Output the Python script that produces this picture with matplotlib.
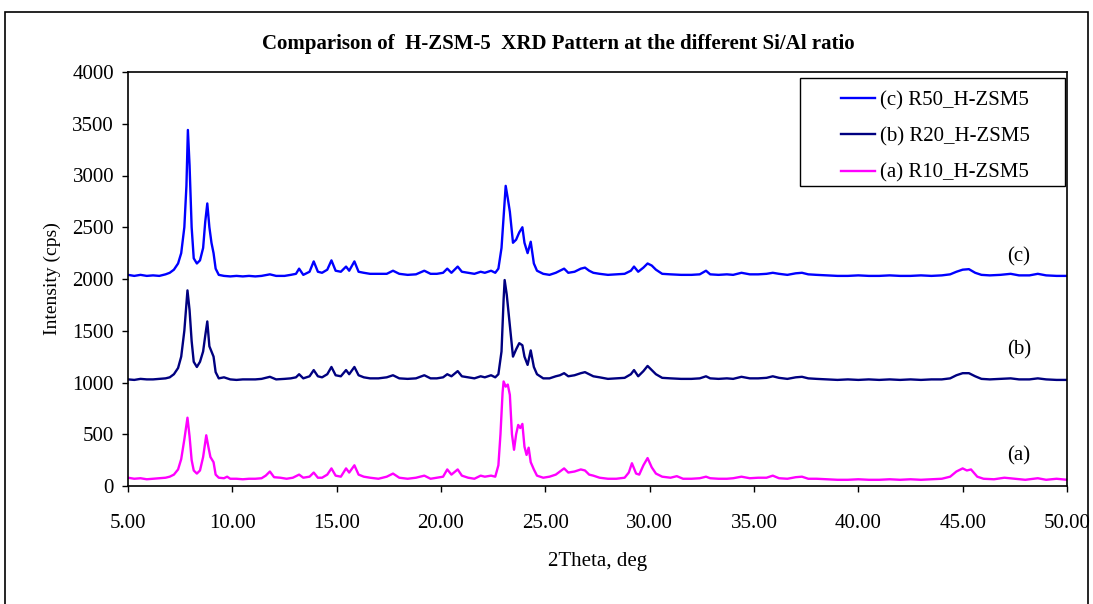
import matplotlib
matplotlib.use("Agg")
import matplotlib.pyplot as plt
from matplotlib.patches import Rectangle

# (c) R50_H-ZSM5
theta_c = [5.0, 5.3, 5.6, 5.9, 6.2, 6.5, 6.8, 7.0, 7.2, 7.4, 7.55, 7.7, 7.8, 7.87, 7.95,
           8.05, 8.15, 8.3, 8.45, 8.6, 8.7, 8.8, 8.9, 9.0, 9.1, 9.2, 9.35, 9.6, 9.9,
           10.2, 10.5, 10.8, 11.1, 11.4, 11.8, 12.1, 12.5, 12.8, 13.05, 13.2, 13.4,
           13.7, 13.9, 14.1, 14.3, 14.55, 14.75, 14.95, 15.2, 15.45, 15.6, 15.85,
           16.05, 16.3, 16.6, 17.0, 17.4, 17.7, 18.0, 18.4, 18.8, 19.2, 19.5, 19.8,
           20.1, 20.3, 20.5, 20.8, 21.0, 21.3, 21.6, 21.9, 22.1, 22.4, 22.6, 22.75,
           22.9, 23.0, 23.1, 23.2, 23.3, 23.45, 23.6, 23.75, 23.9, 24.0, 24.15, 24.3,
           24.45, 24.6, 24.9, 25.2, 25.5, 25.7, 25.9, 26.1, 26.4, 26.7, 26.9, 27.1,
           27.3, 27.6, 28.0, 28.4, 28.8, 29.1, 29.25, 29.45, 29.7, 29.9, 30.1, 30.3,
           30.6, 31.0, 31.5, 32.0, 32.4, 32.7, 32.9, 33.3, 33.7, 34.0, 34.4, 34.8,
           35.2, 35.6, 35.9, 36.2, 36.6, 37.0, 37.3, 37.6, 38.0, 38.5, 39.0, 39.5,
           40.0, 40.5, 41.0, 41.5, 42.0, 42.5, 43.0, 43.5, 44.0, 44.4, 44.7, 45.0,
           45.3, 45.6, 45.9, 46.3, 46.8, 47.3, 47.7, 48.2, 48.6, 49.0, 49.5, 50.0]
int_c = [2040, 2030, 2040, 2030, 2035, 2030, 2045, 2060, 2090, 2150, 2250, 2500, 2900, 3440, 3100,
         2500, 2200, 2150, 2180, 2300, 2550, 2730, 2500, 2350, 2250, 2100, 2040, 2030, 2025,
         2030, 2025, 2030, 2025, 2030, 2045, 2030, 2030, 2040, 2050, 2100, 2040,
         2070, 2170, 2070, 2060, 2090, 2180, 2080, 2070, 2120, 2080, 2170,
         2070, 2060, 2050, 2050, 2050, 2080, 2050, 2040, 2045, 2080, 2050, 2050,
         2060, 2100, 2060, 2120, 2070, 2060, 2050, 2070, 2060, 2080, 2060, 2100,
         2300, 2600, 2900, 2780, 2650, 2350, 2380, 2450, 2500, 2350, 2250, 2360,
         2150, 2080, 2050, 2040, 2060, 2080, 2100, 2060, 2070, 2100, 2110, 2080,
         2060, 2050, 2040, 2045, 2050, 2080, 2120, 2070, 2110, 2150, 2130, 2090,
         2050, 2045, 2040, 2040, 2045, 2080, 2045, 2040, 2045, 2040, 2060, 2045,
         2045, 2050, 2060, 2050, 2040, 2055, 2060, 2045, 2040, 2035, 2030, 2030,
         2035, 2030, 2030, 2035, 2030, 2030, 2035, 2030, 2035, 2045, 2070, 2090,
         2095, 2060, 2040, 2035, 2040, 2050, 2035, 2035, 2050, 2035, 2030, 2030]

# (b) R20_H-ZSM5
theta_b = [5.0, 5.3, 5.6, 5.9, 6.2, 6.5, 6.8, 7.0, 7.2, 7.4, 7.55, 7.7, 7.85, 7.95,
           8.05, 8.15, 8.3, 8.45, 8.6, 8.7, 8.8, 8.9, 9.0, 9.1, 9.2, 9.35, 9.6, 9.9,
           10.2, 10.5, 10.8, 11.1, 11.4, 11.8, 12.1, 12.5, 12.8, 13.05, 13.2, 13.4,
           13.7, 13.9, 14.1, 14.3, 14.55, 14.75, 14.95, 15.2, 15.45, 15.6, 15.85,
           16.05, 16.3, 16.6, 17.0, 17.4, 17.7, 18.0, 18.4, 18.8, 19.2, 19.5, 19.8,
           20.1, 20.3, 20.5, 20.8, 21.0, 21.3, 21.6, 21.9, 22.1, 22.4, 22.6, 22.75,
           22.9, 23.0, 23.05, 23.15, 23.3, 23.45, 23.6, 23.75, 23.9, 24.0, 24.15, 24.3,
           24.45, 24.6, 24.9, 25.2, 25.5, 25.7, 25.9, 26.1, 26.4, 26.7, 26.9, 27.1,
           27.3, 27.6, 28.0, 28.4, 28.8, 29.1, 29.25, 29.45, 29.7, 29.9, 30.1, 30.3,
           30.6, 31.0, 31.5, 32.0, 32.4, 32.7, 32.9, 33.3, 33.7, 34.0, 34.4, 34.8,
           35.2, 35.6, 35.9, 36.2, 36.6, 37.0, 37.3, 37.6, 38.0, 38.5, 39.0, 39.5,
           40.0, 40.5, 41.0, 41.5, 42.0, 42.5, 43.0, 43.5, 44.0, 44.4, 44.7, 45.0,
           45.3, 45.6, 45.9, 46.3, 46.8, 47.3, 47.7, 48.2, 48.6, 49.0, 49.5, 50.0]
int_b = [1030, 1025, 1035, 1030, 1030, 1035, 1040, 1050, 1080, 1140, 1250, 1500, 1890, 1700,
         1400, 1200, 1150, 1200, 1300, 1450, 1590, 1350, 1300, 1250, 1100, 1040, 1050, 1030,
         1025, 1030, 1030, 1030, 1035, 1055, 1030, 1035, 1040, 1050, 1080, 1040,
         1060, 1120, 1060, 1050, 1080, 1150, 1070, 1060, 1120, 1080, 1150,
         1070, 1050, 1040, 1040, 1050, 1070, 1040, 1035, 1040, 1070, 1040, 1040,
         1050, 1080, 1060, 1110, 1060, 1050, 1040, 1060, 1050, 1070, 1050, 1080,
         1300, 1800, 1990, 1850, 1550, 1250, 1320, 1380, 1360, 1250, 1170, 1310,
         1150, 1080, 1040, 1040, 1060, 1070, 1090, 1060, 1070, 1090, 1100, 1080,
         1060, 1050, 1035, 1040, 1045, 1080, 1120, 1060, 1110, 1160, 1120, 1080,
         1045, 1040, 1035, 1035, 1040, 1060, 1040, 1035, 1040, 1035, 1055, 1040,
         1040, 1045, 1060, 1045, 1035, 1050, 1055, 1040, 1035, 1030, 1025, 1030,
         1025, 1030, 1025, 1030, 1025, 1030, 1025, 1030, 1030, 1040, 1070, 1090,
         1090, 1060, 1035, 1030, 1035, 1040, 1030, 1030, 1040, 1030, 1025, 1025]

# (a) R10_H-ZSM5
theta_a = [5.0, 5.3, 5.6, 5.9, 6.2, 6.5, 6.8, 7.0, 7.2, 7.4, 7.55, 7.7, 7.85, 7.95,
           8.05, 8.15, 8.3, 8.45, 8.6, 8.75, 8.85, 8.95, 9.1, 9.2, 9.35, 9.6, 9.75, 9.9,
           10.2, 10.5, 10.8, 11.1, 11.4, 11.6, 11.8, 12.0, 12.3, 12.6, 12.9, 13.2, 13.4,
           13.7, 13.9, 14.1, 14.3, 14.55, 14.75, 14.95, 15.2, 15.45, 15.6, 15.85,
           16.05, 16.3, 16.6, 17.0, 17.4, 17.7, 18.0, 18.4, 18.8, 19.2, 19.5, 19.8,
           20.1, 20.3, 20.5, 20.8, 21.0, 21.3, 21.6, 21.9, 22.1, 22.4, 22.6, 22.75,
           22.85, 22.95, 23.0, 23.1, 23.2, 23.3, 23.4, 23.5, 23.6, 23.7, 23.8, 23.9,
           24.0, 24.1, 24.2, 24.3, 24.45, 24.6, 24.9, 25.2, 25.5, 25.7, 25.9, 26.1,
           26.4, 26.7, 26.9, 27.1, 27.3, 27.6, 28.0, 28.4, 28.8, 29.0, 29.15, 29.35,
           29.5, 29.7, 29.9, 30.1, 30.3, 30.6, 31.0, 31.3, 31.6, 32.0, 32.4, 32.7,
           32.9, 33.3, 33.7, 34.0, 34.4, 34.8, 35.2, 35.6, 35.9, 36.2, 36.6, 37.0,
           37.3, 37.6, 38.0, 38.5, 39.0, 39.5, 40.0, 40.5, 41.0, 41.5, 42.0, 42.5,
           43.0, 43.5, 44.0, 44.4, 44.7, 45.0, 45.2, 45.4, 45.7, 46.0, 46.5, 47.0,
           47.5, 48.0, 48.6, 49.0, 49.5, 50.0]
int_a = [80, 70, 75, 65, 70, 75, 80, 90, 110, 160, 260, 450, 660, 480,
         250, 150, 120, 150, 280, 490, 380, 280, 230, 110, 80, 75, 90, 70,
         70, 65, 70, 70, 75, 100, 140, 85, 80, 70, 80, 110, 80,
         90, 130, 80, 80, 110, 170, 100, 90, 170, 130, 200,
         110, 90, 80, 70, 90, 120, 80, 70, 80, 100, 70, 80,
         90, 160, 110, 160, 100, 80, 70, 100, 90, 100, 90, 200,
         500, 900, 1010, 960, 980, 880, 500, 350, 500, 590, 560, 600,
         380, 300, 370, 230, 160, 100, 80, 90, 110, 140, 170, 130,
         140, 160, 150, 110, 100, 80, 70, 70, 80, 130, 220, 120,
         110, 200, 270, 180, 120, 90, 80, 95, 70, 70, 75, 90,
         75, 70, 70, 75, 90, 75, 80, 80, 100, 75, 70, 85,
         90, 70, 70, 65, 60, 60, 65, 60, 60, 65, 60, 65,
         60, 65, 70, 90, 140, 170, 150, 160, 90, 70, 65, 80,
         70, 60, 75, 60, 70, 60]

series_labels = ["(c) R50_H-ZSM5", "(b) R20_H-ZSM5", "(a) R10_H-ZSM5"]
series_colors = ["#0000FF", "#000080", "#FF00FF"]
curve_tags = ["(c)", "(b)", "(a)"]
tag_y = [2210, 1320, 290]

x_ticks = [5, 10, 15, 20, 25, 30, 35, 40, 45, 50]
y_ticks = [0, 500, 1000, 1500, 2000, 2500, 3000, 3500, 4000]

plt.rcParams['font.family'] = ['Liberation Serif', 'DejaVu Serif']

fig = plt.figure(figsize=(10.93, 6.04), dpi=100)
ax = fig.add_axes([128 / 1093, 1 - 486 / 604, 939 / 1093, 414 / 604])

# outer chart frame
fig.patches.append(Rectangle((5 / 1093, -0.05), 1083 / 1093, 1.05 - 12 / 604,
                             transform=fig.transFigure, fill=False,
                             edgecolor='black', linewidth=1.2))

lines = []
for th, it, col, lab in zip([theta_c, theta_b, theta_a], [int_c, int_b, int_a],
                            series_colors, series_labels):
    ln, = ax.plot(th, it, color=col, linewidth=1.7, label=lab)
    lines.append(ln)

for tag, ty in zip(curve_tags, tag_y):
    ax.text(47.7, ty, tag, fontsize=15, ha='center', va='center')

ax.set_xlim(5, 50)
ax.set_ylim(0, 4000)
ax.set_xticks(x_ticks)
ax.set_xticklabels(["%.2f" % v for v in x_ticks])
ax.set_yticks(y_ticks)
ax.tick_params(direction='out', length=4, labelsize=15, width=1)
ax.tick_params(axis='x', pad=16)
ax.tick_params(axis='y', pad=6)
for sp in ax.spines.values():
    sp.set_linewidth(1.2)

ax.set_xlabel("2Theta, deg", fontsize=15, labelpad=14)
ax.set_ylabel("Intensity (cps)", fontsize=14, labelpad=8)
fig.text(558 / 1093, 1 - 44 / 604,
         "Comparison of  H-ZSM-5  XRD Pattern at the different Si/Al ratio",
         fontsize=15, fontweight='bold', ha='center', va='center')

# legend with Excel-like wide frame
ax.add_patch(Rectangle((0.716, 0.725), 0.282, 0.26, transform=ax.transAxes,
                       facecolor='white', edgecolor='black', linewidth=1, zorder=4))
leg = ax.legend(handles=lines, loc='upper right', bbox_to_anchor=(0.976, 0.99),
                frameon=False, fontsize=15, handlelength=1.6, handletextpad=0.25,
                labelspacing=0.8, borderaxespad=0.3)
leg.set_zorder(5)

plt.savefig("out.png", dpi=100)
